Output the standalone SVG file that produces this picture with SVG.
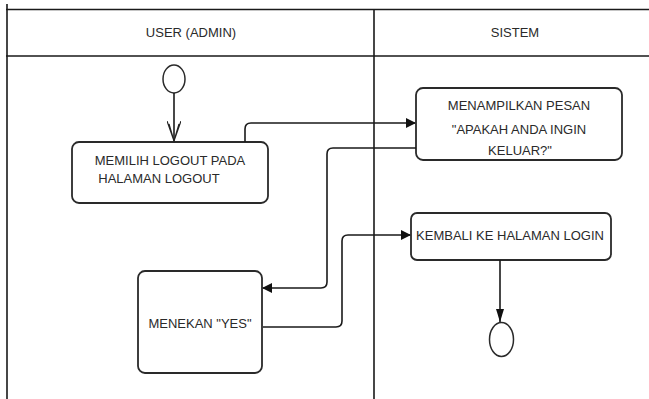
<svg xmlns="http://www.w3.org/2000/svg" width="649" height="399" viewBox="0 0 649 399">
<style>
.lane{stroke:#1a1a1a;stroke-width:1.6;fill:none}
.box{fill:#fff;stroke:#2a2a2a;stroke-width:1.8}
.t{font-family:"Liberation Sans",Arial,sans-serif;font-size:13px;fill:#2a2a2a;text-anchor:middle;dominant-baseline:central}
.c{fill:none;stroke:#1a1a1a;stroke-width:1.6}
.circ{fill:#fff;stroke:#2a2a2a;stroke-width:1.5}
</style>
<defs>
<marker id="fa" markerWidth="10" markerHeight="10" refX="9" refY="5" orient="auto" markerUnits="userSpaceOnUse">
<path d="M0,0 L10,5 L0,10 Z" fill="#111"/>
</marker>
<marker id="na" markerWidth="14" markerHeight="8" refX="13" refY="4" orient="auto" markerUnits="userSpaceOnUse">
<path d="M0,0 L13,4 L0,8 Z" fill="#111"/>
</marker>
<marker id="oa" markerWidth="22" markerHeight="14" refX="20" refY="7" orient="auto" markerUnits="userSpaceOnUse">
<path d="M0,0 L20,7 L0,14 M3,2 L20,7 L3,12" fill="none" stroke="#222" stroke-width="1.2"/>
</marker>
</defs>
<rect width="649" height="399" fill="#fff"/>
<g id="lanes">
<path class="lane" d="M7,4 V399 M374,9 V399 M6,9.5 H649 M6,56 H649"/>
<text class="t" x="191" y="32">USER (ADMIN)</text>
<text class="t" x="515" y="32">SISTEM</text>
</g>
<g id="start"><ellipse class="circ" cx="174" cy="79" rx="11" ry="14"/></g>
<g id="memilih">
<rect class="box" x="72" y="142" width="196" height="61" rx="7"/>
<text class="t" x="170" y="160">MEMILIH LOGOUT PADA</text>
<text class="t" x="159" y="178">HALAMAN LOGOUT</text>
</g>
<g id="menampilkan">
<rect class="box" x="416" y="88" width="206" height="72" rx="7"/>
<text class="t" x="519" y="105">MENAMPILKAN PESAN</text>
<text class="t" x="519" y="129">"APAKAH ANDA INGIN</text>
<text class="t" x="520" y="150">KELUAR?"</text>
</g>
<g id="kembali">
<rect class="box" x="411" y="213" width="200" height="47" rx="6"/>
<text class="t" x="510" y="235">KEMBALI KE HALAMAN LOGIN</text>
</g>
<g id="menekan">
<rect class="box" x="138" y="271" width="124" height="102" rx="7"/>
<text class="t" x="200" y="323">MENEKAN "YES"</text>
</g>
<g id="end"><ellipse class="circ" cx="501.5" cy="339.5" rx="12" ry="17"/></g>
<g id="connectors">
<path class="c" d="M174,93 V141" marker-end="url(#oa)"/>
<path class="c" d="M245,142 V129 Q245,123 251,123 H415" marker-end="url(#fa)"/>
<path class="c" d="M416,148 H333 Q327,148 327,154 V282 Q327,288 321,288 H263" marker-end="url(#fa)"/>
<path class="c" d="M263,327 H336 Q342,327 342,321 V241 Q342,235 348,235 H410" marker-end="url(#fa)"/>
<path class="c" d="M500,260 V322" marker-end="url(#na)"/>
</g>
</svg>
